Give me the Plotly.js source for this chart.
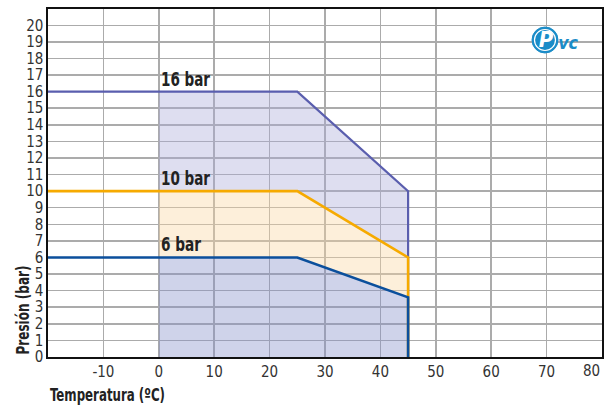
<!DOCTYPE html>
<html><head><meta charset="utf-8">
<script src="https://cdn.plot.ly/plotly-3.0.1.min.js"></script>
<style>html,body{margin:0;padding:0;background:#fff}#chart{width:613px;height:406px}
#chart svg text{font-stretch:condensed !important;}
#chart svg .annotation:nth-child(7) text, #chart svg .annotation:nth-child(8) text{font-stretch:normal !important;}
</style>
</head><body><div id="chart"></div>
<script>
// Data
const temps = [-20, 0, 25, 45, 45];
const p16 = [16, 16, 16, 10, 0];
const p10 = [10, 10, 10, 6, 0];
const p6 = [6, 6, 6, 3.6, 0];
const seriesNames = ['16 bar', '10 bar', '6 bar'];
const xTickVals = [-20, -10, 0, 10, 20, 30, 40, 50, 60, 70, 80];
const xTickText = ['', '-10', '0', '10', '20', '30', '40', '50', '60', '70', ''];
const yTickVals = [0,1,2,3,4,5,6,7,8,9,10,11,12,13,14,15,16,17,18,19,20];

const FONT = '"DejaVu Sans Condensed", "DejaVu Sans", sans-serif';
const zeros = p6.map(() => 0);

function band(upper, lower, color) {
  const xs = [], ys = [];
  for (let i = 1; i <= 3; i++) { xs.push(temps[i]); ys.push(upper[i]); }
  for (let i = 3; i >= 1; i--) { xs.push(temps[i]); ys.push(lower[i]); }
  return {x: xs, y: ys, mode: 'lines', fill: 'toself', fillcolor: color,
          line: {width: 0, color: 'rgba(0,0,0,0)'}, hoverinfo: 'skip', showlegend: false};
}
function line(vals, color, name, w) {
  return {x: temps, y: vals, mode: 'lines', name: name,
          line: {color: color, width: w}, showlegend: false};
}

const traces = [
  band(p16, p10, 'rgba(172,172,217,0.4)'),
  band(p10, p6, 'rgba(250,215,163,0.4)'),
  band(p6, zeros, 'rgba(135,145,202,0.4)'),
  line(p16, '#5a5eae', seriesNames[0], 2.2),
  line(p10, '#f6aa00', seriesNames[1], 2.6),
  line(p6, '#0b4f9c', seriesNames[2], 2.6)
];

function px2x(px) { return (px - 48) / 554; }
function px2y(py) { return (357 - py) / 348; }

const annotations = [
  {text: '<b>' + seriesNames[0] + '</b>', x: 0, y: p16[1], xref: 'x', yref: 'y', xanchor: 'left', yanchor: 'bottom', showarrow: false, font: {family: FONT, size: 19, color: '#222'}, xshift: 0},
  {text: '<b>' + seriesNames[1] + '</b>', x: 0, y: p10[1], xref: 'x', yref: 'y', xanchor: 'left', yanchor: 'bottom', showarrow: false, font: {family: FONT, size: 19, color: '#222'}, xshift: 0},
  {text: '<b>' + seriesNames[2] + '</b>', x: 0, y: p6[1], xref: 'x', yref: 'y', xanchor: 'left', yanchor: 'bottom', showarrow: false, font: {family: FONT, size: 19, color: '#222'}, xshift: 0},
  {text: '<b>Presión (bar)</b>', textangle: -90, x: px2x(22), y: 0, xref: 'paper', yref: 'paper', xanchor: 'center', yanchor: 'bottom', showarrow: false, font: {family: FONT, size: 17, color: '#222'}},
  {text: '<b>Temperatura (ºC)</b>', x: 0, y: px2y(395), xref: 'paper', yref: 'paper', xanchor: 'left', yanchor: 'middle', showarrow: false, font: {family: FONT, size: 17, color: '#222'}},
  {text: '80', x: 80, y: px2y(371), xref: 'x', yref: 'paper', xanchor: 'right', yanchor: 'middle', showarrow: false, font: {family: FONT, size: 15, color: '#333'}},
  {text: '<b><i>P</i></b>', x: px2x(545.5), y: px2y(40), xref: 'paper', yref: 'paper', xanchor: 'center', yanchor: 'middle', showarrow: false, font: {family: 'DejaVu Sans, sans-serif', size: 22, color: '#ffffff'}},
  {text: '<b><i>vc</i></b>', x: px2x(555), y: px2y(42), xref: 'paper', yref: 'paper', xanchor: 'left', yanchor: 'middle', showarrow: false, font: {family: 'DejaVu Sans, sans-serif', size: 18, color: '#1a8cc8'}}
];

const shapes = [
  {type: 'circle', xref: 'paper', yref: 'paper', x0: px2x(532), x1: px2x(558), y0: px2y(53), y1: px2y(27), fillcolor: '#1a8cc8', line: {color: '#1a8cc8', width: 1}},
  {type: 'circle', xref: 'paper', yref: 'paper', x0: px2x(534.5), x1: px2x(555.5), y0: px2y(50.5), y1: px2y(29.5), fillcolor: 'rgba(0,0,0,0)', line: {color: '#ffffff', width: 1.2}}
];

const layout = {
  width: 613, height: 406,
  margin: {l: 48, r: 11, t: 9, b: 49},
  paper_bgcolor: '#ffffff', plot_bgcolor: '#ffffff',
  showlegend: false,
  xaxis: {range: [-20, 80], tickvals: xTickVals, ticktext: xTickText, showgrid: true, gridcolor: '#ababab', gridwidth: 1.5,
          zeroline: false, showline: true, linecolor: '#111', linewidth: 1.6, mirror: true, ticks: '',
          tickfont: {family: FONT, size: 15, color: '#333'}, fixedrange: true},
  yaxis: {range: [0, 20.98], tickvals: yTickVals, showgrid: true, gridcolor: '#ababab', gridwidth: 1.5,
          zeroline: false, showline: true, linecolor: '#111', linewidth: 1.6, mirror: true, ticks: '',
          tickfont: {family: FONT, size: 15, color: '#333'}, fixedrange: true},
  annotations: annotations,
  shapes: shapes
};

// condense bold labels to match the narrow typeface of the original
const squeezeWidths = {'16 bar': 49, '10 bar': 49, '6 bar': 40, 'Presión (bar)': 89, 'Temperatura (ºC)': 115, 'vc': 20};

Plotly.newPlot('chart', traces, layout, {displayModeBar: false, staticPlot: true}).then(gd => {
  gd.querySelectorAll('.annotation-text').forEach(t => {
    const w = squeezeWidths[t.textContent];
    if (!w) return;
    const bb = t.getBBox();
    t.setAttribute('text-anchor', 'start');
    t.style.textAnchor = 'start';
    t.setAttribute('x', bb.x);
    t.querySelectorAll('tspan').forEach(s => { if (s.hasAttribute('x')) s.setAttribute('x', bb.x); });
    t.setAttribute('textLength', w);
    t.setAttribute('lengthAdjust', 'spacingAndGlyphs');
  });
});
</script>
</body></html>
